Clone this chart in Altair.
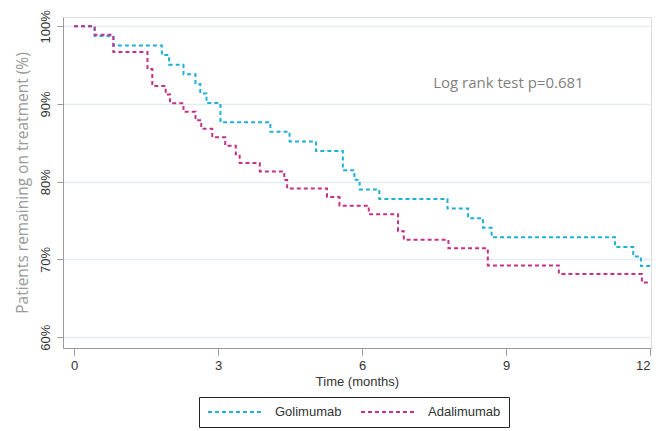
import altair as alt
import pandas as pd

# Golimumab step curve (time in months, % remaining)
gol_t = [0, 0.43, 0.82, 1.83, 1.98, 2.28, 2.53, 2.63, 2.76, 3.05, 4.09, 4.49, 5.04, 5.60, 5.84, 5.95, 6.36, 7.78, 8.21, 8.52, 8.70, 11.27, 11.65, 11.81, 12.0]
gol_v = [100, 98.77, 97.53, 96.30, 95.06, 93.83, 92.59, 91.36, 90.12, 87.65, 86.42, 85.19, 83.95, 81.48, 80.25, 79.01, 77.78, 76.54, 75.31, 74.07, 72.84, 71.60, 70.37, 69.14, 69.14]

# Adalimumab step curve
ada_t = [0, 0.43, 0.82, 1.53, 1.63, 1.91, 2.0, 2.28, 2.53, 2.65, 2.88, 3.15, 3.37, 3.45, 3.87, 4.38, 4.44, 5.27, 5.53, 6.14, 6.75, 6.87, 7.80, 8.62, 10.10, 11.83, 12.0]
ada_v = [100, 98.90, 96.70, 94.51, 92.31, 91.21, 90.11, 89.01, 87.91, 86.81, 85.71, 84.62, 83.52, 82.42, 81.32, 80.22, 79.12, 78.02, 76.92, 75.82, 73.63, 72.53, 71.43, 69.23, 68.13, 67.03, 67.03]

series_names = ["Golimumab", "Adalimumab"]
series_colors = ["#1fb0d8", "#c4308a"]
x_ticks = [0, 3, 6, 9, 12]
y_ticks = [60, 70, 80, 90, 100]
annotation = "Log rank test p=0.681"

rows = []
for i, (t, v) in enumerate(zip(gol_t, gol_v)):
    rows.append({"time": t, "pct": v, "group": series_names[0], "order": i})
for i, (t, v) in enumerate(zip(ada_t, ada_v)):
    rows.append({"time": t, "pct": v, "group": series_names[1], "order": i})
df = pd.DataFrame(rows)

xscale = alt.Scale(domain=[-0.23, 12.02], nice=False, zero=False)
yscale = alt.Scale(domain=[58.6, 101.2], nice=False, zero=False)

lines = alt.Chart(df).mark_line(
    interpolate="step-after", strokeDash=[4, 3], strokeWidth=2
).encode(
    x=alt.X("time:Q", scale=xscale,
            axis=alt.Axis(values=x_ticks, title="Time (months)", grid=False,
                          labelFont="Liberation Sans", labelFontSize=13, labelColor="#333",
                          titleFont="Liberation Sans", titleFontSize=13, titleFontWeight="normal",
                          titleColor="#333", titlePadding=3,
                          domainColor="#999", tickColor="#999", tickSize=7, labelPadding=4)),
    y=alt.Y("pct:Q", scale=yscale,
            axis=alt.Axis(values=y_ticks, title="Patients remaining on treatment (%)",
                          labelExpr="datum.value + '%'", labelAngle=-90,
                          labelAlign="center", labelBaseline="bottom",
                          labelFont="Liberation Sans", labelFontSize=13, labelColor="#333",
                          titleFont="Open Sans", titleFontSize=15.5, titleFontWeight="normal",
                          titleColor="#9a9a9a", titlePadding=9,
                          grid=True, gridColor="#e4ecf0", gridWidth=1.5,
                          domainColor="#999", tickColor="#999", tickSize=6, labelPadding=5)),
    color=alt.Color("group:N", scale=alt.Scale(domain=series_names, range=series_colors),
                    legend=alt.Legend(title=None, orient="none", direction="horizontal",
                                      legendX=136, legendY=380,
                                      symbolType="stroke", symbolDash=[4, 3], symbolStrokeWidth=2,
                                      symbolSize=3136, clipHeight=14, strokeColor="#222",
                                      padding=8, columnPadding=18, labelFont="Liberation Sans",
                                      labelFontSize=13, labelColor="#333", labelOffset=10)),
    order="order:Q",
)

ann_df = pd.DataFrame({"time": [9.05], "pct": [92.7], "label": [annotation]})
text = alt.Chart(ann_df).mark_text(
    font="Open Sans", fontSize=15, color="#7f7f7f", align="center", baseline="middle"
).encode(x=alt.X("time:Q", scale=xscale), y=alt.Y("pct:Q", scale=yscale), text="label:N")

chart = alt.layer(lines, text).properties(
    width=588, height=331,
    padding={"left": 55, "top": 9, "right": 6, "bottom": 80},
    autosize=alt.AutoSizeParams(type="none"),
).configure_view(stroke=None).configure(background="white")

chart.save("out.html", embed_options={"renderer": "svg", "actions": False})
